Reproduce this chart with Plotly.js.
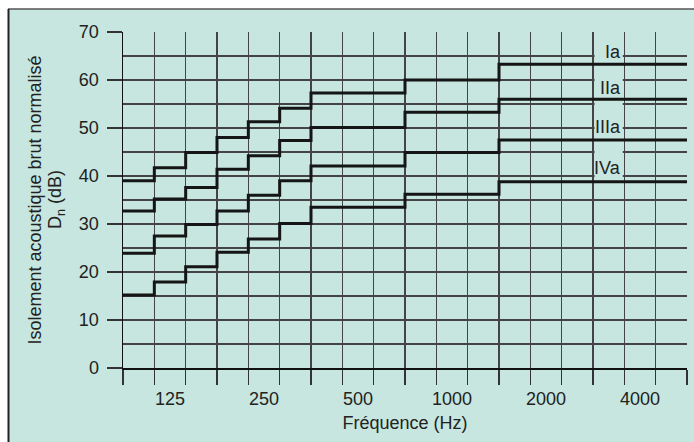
<!DOCTYPE html>
<html>
<head>
<meta charset="utf-8">
<script src="https://cdn.plot.ly/plotly-3.0.1.min.js"></script>
<style>html,body{margin:0;padding:0;background:#fff;}#chart{width:694px;height:442px;}</style>
</head>
<body>
<div id="chart"></div>
<script>
// Third-octave bands (Hz)
const bands = ['100','125','160','200','250','315','400','500','630','800','1000','1250','1600','2000','2500','3150','4000','5000'];
const tickLabels = ['125','250','500','1000','2000','4000'];
// Reference curves, Dn (dB) per band
const Ia   = [39.0, 41.7, 44.9, 48.0, 51.3, 54.1, 57.3, 57.3, 57.3, 60.0, 60.0, 60.0, 63.3, 63.3, 63.3, 63.3, 63.3, 63.3];
const IIa  = [32.7, 35.2, 37.6, 41.4, 44.2, 47.4, 50.1, 50.1, 50.1, 53.3, 53.3, 53.3, 56.0, 56.0, 56.0, 56.0, 56.0, 56.0];
const IIIa = [23.9, 27.5, 29.9, 32.7, 36.0, 39.0, 42.1, 42.1, 42.1, 44.9, 44.9, 44.9, 47.5, 47.5, 47.5, 47.5, 47.5, 47.5];
const IVa  = [15.2, 17.9, 21.1, 24.1, 26.9, 30.1, 33.5, 33.5, 33.5, 36.2, 36.2, 36.2, 38.8, 38.8, 38.8, 38.8, 38.8, 38.8];
const seriesNames = ['Ia','IIa','IIIa','IVa'];
const labelY = [65.9, 58.3, 50.3, 41.6];
const labelBox = [[63.9, 69.6], [56.6, 62.7], [48.1, 55.5], [39.4, 47.0]];
const yTitle1 = 'Isolement acoustique brut normalisé';
const yTitle2 = 'D<sub>n</sub> (dB)';
const xTitle = 'Fréquence (Hz)';

const BG = '#c6e6df';
const FONT = 'Liberation Sans, Arial, Helvetica, sans-serif';
const FS = 18;
const W = 694, H = 442;
const M = {l: 123, r: 7, t: 32, b: 74};
const pw = W - M.l - M.r, ph = H - M.t - M.b;
const px2x = p => (p - M.l) / pw;
const px2y = p => (H - M.b - p) / ph;

const edges = bands.map((b, i) => i).concat([bands.length]);
const centers = bands.map((b, i) => i + 0.5);
const labelPos = tickLabels.map(t => centers[bands.indexOf(t)]);

const allSeries = [Ia, IIa, IIIa, IVa];
const traces = allSeries.map((vals, k) => ({
  type: 'scatter', mode: 'lines', name: seriesNames[k],
  x: edges, y: vals.concat([vals[vals.length - 1]]),
  line: {shape: 'hv', color: '#151515', width: 3},
  hoverinfo: 'skip', showlegend: false
}));
// carrier for the label axis
traces.push({type: 'scatter', mode: 'none', x: centers, y: centers.map(() => null), xaxis: 'x2', yaxis: 'y', showlegend: false, hoverinfo: 'skip'});

const shapes = [
  // figure frame
  {type: 'rect', xref: 'paper', yref: 'paper', x0: px2x(8), x1: px2x(720), y0: px2y(9), y1: px2y(470),
   fillcolor: BG, line: {width: 0}, layer: 'below'},
  {type: 'line', xref: 'paper', yref: 'paper', x0: px2x(8), x1: px2x(720), y0: px2y(9), y1: px2y(9),
   line: {color: '#555', width: 1.5}, layer: 'above'},
  {type: 'line', xref: 'paper', yref: 'paper', x0: px2x(8.5), x1: px2x(8.5), y0: px2y(9), y1: px2y(470),
   line: {color: '#222', width: 2}, layer: 'above'}
];
labelBox.forEach(b => shapes.push({type: 'rect', xref: 'x', yref: 'y', x0: 15.05, x1: 15.95, y0: b[0], y1: b[1],
  fillcolor: BG, line: {width: 0}, layer: 'between'}));

const annotations = seriesNames.map((n, k) => ({
  text: n, xref: 'x', yref: 'y', x: 15.93, y: labelY[k], xanchor: 'right', yanchor: 'middle',
  showarrow: false, borderpad: 0, font: {family: FONT, size: FS, color: '#222'}
}));
annotations.push({
  text: yTitle2, xref: 'paper', yref: 'paper', x: px2x(56), y: 0.5, xanchor: 'center', yanchor: 'middle',
  textangle: -90, showarrow: false, borderpad: 0, font: {family: FONT, size: FS, color: '#222'}
});

const layout = {
  width: W, height: H, margin: M,
  paper_bgcolor: '#ffffff', plot_bgcolor: BG,
  font: {family: FONT, size: FS, color: '#222'},
  showlegend: false,
  xaxis: {
    range: [0, bands.length], tickmode: 'linear', tick0: 0, dtick: 1,
    showticklabels: false, ticks: 'outside', ticklen: 15, tickwidth: 1.5, tickcolor: '#333',
    showgrid: true, gridcolor: '#444', gridwidth: 1.2, zeroline: false,
    showline: true, linecolor: '#111', linewidth: 1.5, fixedrange: true
  },
  xaxis2: {
    overlaying: 'x', side: 'bottom', range: [0, bands.length],
    tickmode: 'array', tickvals: labelPos, ticktext: tickLabels, ticks: '',
    showgrid: false, zeroline: false, showline: false, ticklabelstandoff: 18,
    tickfont: {family: FONT, size: FS, color: '#222'},
    title: {text: xTitle, font: {family: FONT, size: FS, color: '#222'}, standoff: 8}
  },
  yaxis: {
    range: [0, 70], tickmode: 'linear', tick0: 0, dtick: 10,
    ticks: 'outside', ticklen: 15, tickwidth: 1.5, tickcolor: '#333',
    ticklabelstandoff: 4,
    tickfont: {family: FONT, size: FS, color: '#222'},
    showgrid: true, gridcolor: '#444', gridwidth: 1.2, zeroline: false,
    showline: true, linecolor: '#111', linewidth: 1.5,
    minor: {dtick: 5, tick0: 0, showgrid: true, gridcolor: '#444', gridwidth: 1.2, ticks: ''},
    title: {text: yTitle1, font: {family: FONT, size: FS, color: '#222'}, standoff: 32}
  },
  shapes: shapes,
  annotations: annotations
};

Plotly.newPlot('chart', traces, layout, {staticPlot: true, displayModeBar: false});
</script>
</body>
</html>
